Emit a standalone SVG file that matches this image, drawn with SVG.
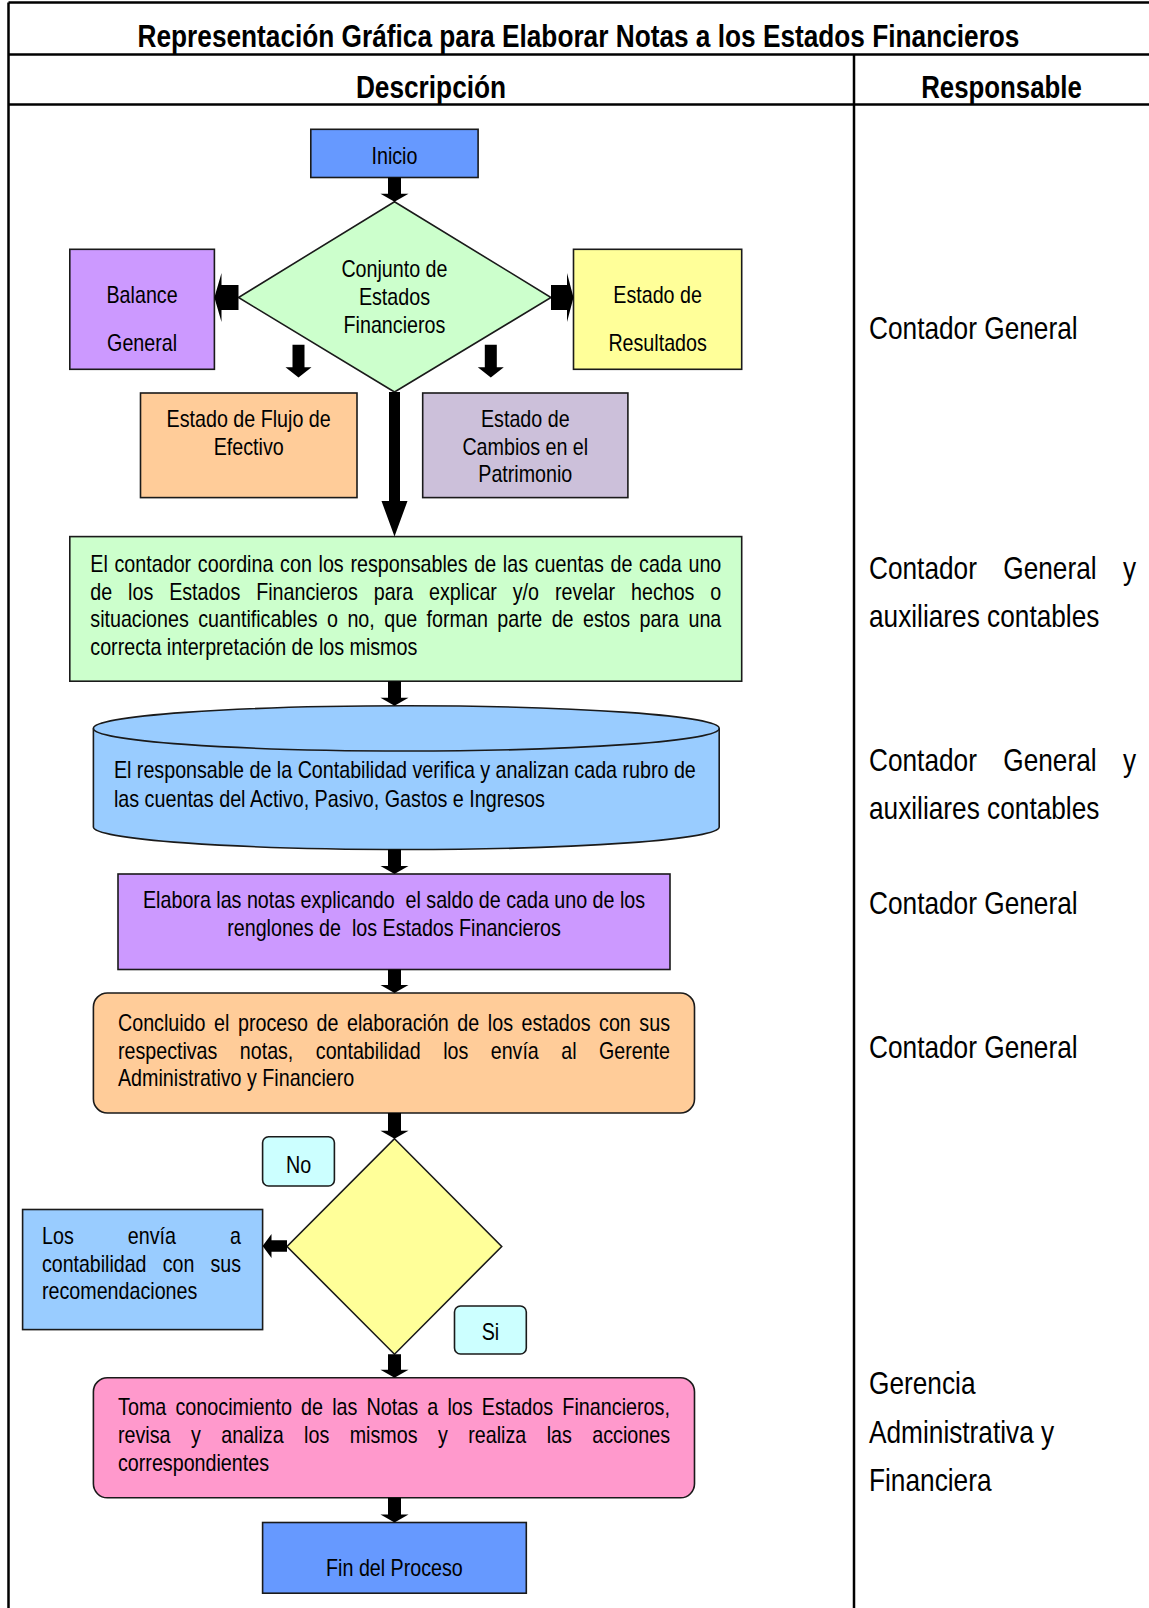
<svg xmlns="http://www.w3.org/2000/svg" width="1149" height="1608" viewBox="0 0 1149 1608">
<style>
.t{font-family:"Liberation Sans",Arial,sans-serif;font-size:24px;fill:#000}
.r{font-family:"Liberation Sans",Arial,sans-serif;font-size:32px;fill:#000}
.h{font-family:"Liberation Sans",Arial,sans-serif;font-size:32px;font-weight:bold;fill:#000}
.b{stroke:#1a1a1a;stroke-width:1.6}
.grid{stroke:#000;stroke-width:2.5;fill:none}
.arr{fill:#000;stroke:none}
</style>
<rect width="1149" height="1608" fill="#fff"/>
<g id="table">
<path class="grid" d="M8.5,2.5 H1149 M8.5,54.5 H1149 M8.5,104.5 H1149 M8.5,2.5 V1608 M854,54.5 V1608"/>
<text class="h" style="font-size:26.24px" text-anchor="middle" x="0" y="0" transform="translate(578.5,47.2) scale(1,1.2195)">Representación Gráfica para Elaborar Notas a los Estados Financieros</text>
<text class="h" x="355.9" y="97.7" textLength="150.2" lengthAdjust="spacingAndGlyphs">Descripción</text>
<text class="h" x="921.2" y="97.7" textLength="160.7" lengthAdjust="spacingAndGlyphs">Responsable</text>
</g>
<g id="inicio">
<rect class="b" x="310.8" y="129.3" width="167.3" height="48.2" fill="#6699FF"/>
<text class="t" x="371.5" y="163.5" textLength="45.9" lengthAdjust="spacingAndGlyphs">Inicio</text>
</g>
<g id="conjunto">
<polygon class="b" points="394.5,201.7 551,297.5 394.5,392 238.5,297.5" fill="#CCFFCC"/>
<text class="t" x="341.4" y="277.4" textLength="106.1" lengthAdjust="spacingAndGlyphs">Conjunto de</text>
<text class="t" x="358.9" y="305.1" textLength="71.1" lengthAdjust="spacingAndGlyphs">Estados</text>
<text class="t" x="343.6" y="332.8" textLength="101.7" lengthAdjust="spacingAndGlyphs">Financieros</text>
</g>
<g id="balance">
<rect class="b" x="69.8" y="249.3" width="144.6" height="120" fill="#CC99FF"/>
<text class="t" x="106.5" y="303" textLength="71.1" lengthAdjust="spacingAndGlyphs">Balance</text>
<text class="t" x="107.1" y="351.3" textLength="70" lengthAdjust="spacingAndGlyphs">General</text>
</g>
<g id="resultados">
<rect class="b" x="573.5" y="249.3" width="168.2" height="120" fill="#FFFF99"/>
<text class="t" x="613.3" y="303" textLength="88.6" lengthAdjust="spacingAndGlyphs">Estado de</text>
<text class="t" x="608.4" y="351.3" textLength="98.4" lengthAdjust="spacingAndGlyphs">Resultados</text>
</g>
<g id="flujo">
<rect class="b" x="140.5" y="393" width="216.5" height="104.6" fill="#FFCC99"/>
<text class="t" x="166.6" y="427.2" textLength="164.1" lengthAdjust="spacingAndGlyphs">Estado de Flujo de</text>
<text class="t" x="213.7" y="454.9" textLength="70" lengthAdjust="spacingAndGlyphs">Efectivo</text>
</g>
<g id="cambios">
<rect class="b" x="422.7" y="393" width="205.2" height="104.6" fill="#CCC0DA"/>
<text class="t" x="481" y="427.2" textLength="88.6" lengthAdjust="spacingAndGlyphs">Estado de</text>
<text class="t" x="462.4" y="454.9" textLength="125.8" lengthAdjust="spacingAndGlyphs">Cambios en el</text>
<text class="t" x="478.3" y="481.6" textLength="94" lengthAdjust="spacingAndGlyphs">Patrimonio</text>
</g>
<g id="coordina">
<rect class="b" x="69.8" y="536.6" width="671.9" height="144.6" fill="#CCFFCC"/>
<text class="t" x="90.3" y="571.8" textLength="631" lengthAdjust="spacingAndGlyphs" style="word-spacing:1.5px">El contador coordina con los responsables de las cuentas de cada uno</text>
<text class="t" x="90.3" y="599.5" textLength="631" lengthAdjust="spacingAndGlyphs" style="word-spacing:12.7px">de los Estados Financieros para explicar y/o revelar hechos o</text>
<text class="t" x="90.3" y="627.2" textLength="631" lengthAdjust="spacingAndGlyphs" style="word-spacing:4.9px">situaciones cuantificables o no, que forman parte de estos para una</text>
<text class="t" x="90.3" y="654.9" textLength="327" lengthAdjust="spacingAndGlyphs">correcta interpretación de los mismos</text>
</g>
<g id="verifica">
<path class="b" d="M93.4,728.4 A312.9,22.6 0 0 1 719.2,728.4 V826.9 A312.9,22.6 0 0 1 93.4,826.9 Z" fill="#99CCFF"/>
<path class="b" d="M93.4,728.4 A312.9,22.6 0 0 0 719.2,728.4" fill="none"/>
<text class="t" x="113.9" y="778" textLength="581.9" lengthAdjust="spacingAndGlyphs">El responsable de la Contabilidad verifica y analizan cada rubro de</text>
<text class="t" x="113.9" y="806.8" textLength="431" lengthAdjust="spacingAndGlyphs">las cuentas del Activo, Pasivo, Gastos e Ingresos</text>
</g>
<g id="elabora">
<rect class="b" x="118" y="874" width="552" height="95.5" fill="#CC99FF"/>
<text class="t" x="143" y="908.3" textLength="502.1" lengthAdjust="spacingAndGlyphs" xml:space="preserve">Elabora las notas explicando  el saldo de cada uno de los</text>
<text class="t" x="227.2" y="936" textLength="333.6" lengthAdjust="spacingAndGlyphs" xml:space="preserve">renglones de  los Estados Financieros</text>
</g>
<g id="concluido">
<rect class="b" x="93.4" y="993" width="601.1" height="120" rx="14" fill="#FFCC99"/>
<text class="t" x="118" y="1031.4" textLength="552" lengthAdjust="spacingAndGlyphs" style="word-spacing:3.8px">Concluido el proceso de elaboración de los estados con sus</text>
<text class="t" x="118" y="1059.1" textLength="552" lengthAdjust="spacingAndGlyphs" style="word-spacing:20.8px">respectivas notas, contabilidad los envía al Gerente</text>
<text class="t" x="118" y="1085.8" textLength="236.2" lengthAdjust="spacingAndGlyphs">Administrativo y Financiero</text>
</g>
<g id="decision">
<polygon class="b" points="394.5,1138.7 501.7,1246.5 394.5,1354.2 287,1246.5" fill="#FFFF99"/>
</g>
<g id="label-no">
<rect class="b" x="262.6" y="1136.7" width="71.8" height="49.3" rx="6" fill="#CCFFFF"/>
<text class="t" x="285.9" y="1173" textLength="25.2" lengthAdjust="spacingAndGlyphs">No</text>
</g>
<g id="label-si">
<rect class="b" x="454.5" y="1306" width="71.8" height="48" rx="6" fill="#CCFFFF"/>
<text class="t" x="481.7" y="1340.2" textLength="17.5" lengthAdjust="spacingAndGlyphs">Si</text>
</g>
<g id="devuelve">
<rect class="b" x="22.6" y="1209.5" width="240" height="120.1" fill="#99CCFF"/>
<text class="t" x="42" y="1243.8" textLength="199" lengthAdjust="spacingAndGlyphs" style="word-spacing:59.3px">Los envía a</text>
<text class="t" x="42" y="1271.5" textLength="199" lengthAdjust="spacingAndGlyphs" style="word-spacing:13.3px">contabilidad con sus</text>
<text class="t" x="42" y="1299.2" textLength="155.3" lengthAdjust="spacingAndGlyphs">recomendaciones</text>
</g>
<g id="toma">
<rect class="b" x="93.4" y="1377.8" width="601.1" height="120" rx="14" fill="#FF99CC"/>
<text class="t" x="118" y="1415.1" textLength="552" lengthAdjust="spacingAndGlyphs" style="word-spacing:4.4px">Toma conocimiento de las Notas a los Estados Financieros,</text>
<text class="t" x="118" y="1442.8" textLength="552" lengthAdjust="spacingAndGlyphs" style="word-spacing:18.3px">revisa y analiza los mismos y realiza las acciones</text>
<text class="t" x="118" y="1470.5" textLength="151" lengthAdjust="spacingAndGlyphs">correspondientes</text>
</g>
<g id="fin">
<rect class="b" x="262.6" y="1522.5" width="263.7" height="70.7" fill="#6699FF"/>
<text class="t" x="326.1" y="1576.2" textLength="136.7" lengthAdjust="spacingAndGlyphs">Fin del Proceso</text>
</g>
<g id="responsables">
<text class="r" x="869" y="338.8" textLength="208.6" lengthAdjust="spacingAndGlyphs">Contador General</text>
<text class="r" x="869" y="578.8" textLength="107.9" lengthAdjust="spacingAndGlyphs">Contador</text>
<text class="r" x="1003.3" y="578.8" textLength="93.3" lengthAdjust="spacingAndGlyphs">General</text>
<text class="r" x="1122.9" y="578.8" textLength="13.1" lengthAdjust="spacingAndGlyphs">y</text>
<text class="r" x="869" y="627" textLength="230.4" lengthAdjust="spacingAndGlyphs">auxiliares contables</text>
<text class="r" x="869" y="770.7" textLength="107.9" lengthAdjust="spacingAndGlyphs">Contador</text>
<text class="r" x="1003.3" y="770.7" textLength="93.3" lengthAdjust="spacingAndGlyphs">General</text>
<text class="r" x="1122.9" y="770.7" textLength="13.1" lengthAdjust="spacingAndGlyphs">y</text>
<text class="r" x="869" y="818.9" textLength="230.4" lengthAdjust="spacingAndGlyphs">auxiliares contables</text>
<text class="r" x="869" y="914.3" textLength="208.6" lengthAdjust="spacingAndGlyphs">Contador General</text>
<text class="r" x="869" y="1057.9" textLength="208.6" lengthAdjust="spacingAndGlyphs">Contador General</text>
<text class="r" x="869" y="1394.4" textLength="106.5" lengthAdjust="spacingAndGlyphs">Gerencia</text>
<text class="r" x="869" y="1442.6" textLength="185.2" lengthAdjust="spacingAndGlyphs">Administrativa y</text>
<text class="r" x="869" y="1490.8" textLength="122.5" lengthAdjust="spacingAndGlyphs">Financiera</text>
</g>
<g id="connectors" class="arr">
<path d="M388,177.5 H401 V193.7 H408.5 L394.5,201.7 L380.5,193.7 H388 Z"/>
<path d="M238.5,285 V310 H221.5 V322 L214.4,297.5 L221.5,273 V285 Z"/>
<path d="M551,285 V310 H567 V322 L573.5,297.5 L567,273 V285 Z"/>
<path d="M292.5,344.7 H304.5 V367.3 H311.5 L298.5,377.5 L285.5,367.3 H292.5 Z"/>
<path d="M484.8,344.7 H496.8 V367.3 H503.8 L490.8,377.5 L477.8,367.3 H484.8 Z"/>
<path d="M389,392 H400 V501 H407.5 L394.5,536.6 L381.5,501 H389 Z"/>
<path d="M388,681.2 H401 V697.8 H408.5 L394.5,705.8 L380.5,697.8 H388 Z"/>
<path d="M388,849.5 H401 V866 H408.5 L394.5,874 L380.5,866 H388 Z"/>
<path d="M388,969.5 H401 V985 H408.5 L394.5,993 L380.5,985 H388 Z"/>
<path d="M388,1113 H401 V1130.7 H408.5 L394.5,1138.7 L380.5,1130.7 H388 Z"/>
<path d="M287,1240.3 V1251.7 H271.5 V1258 L262.6,1246 L271.5,1234 V1240.3 Z"/>
<path d="M388,1354.2 H401 V1369.8 H408.5 L394.5,1377.8 L380.5,1369.8 H388 Z"/>
<path d="M388,1497.8 H401 V1514.5 H408.5 L394.5,1522.5 L380.5,1514.5 H388 Z"/>
</g>
</svg>
